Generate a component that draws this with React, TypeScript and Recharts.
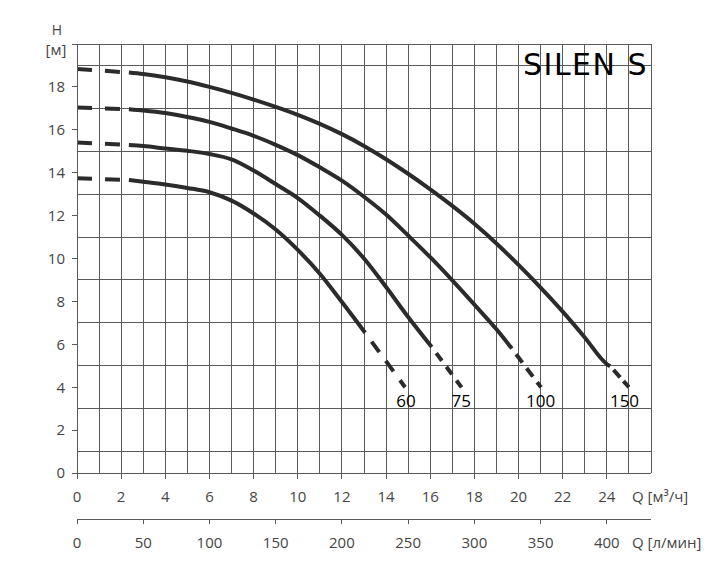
import React from 'react';
import { LineChart, Line, XAxis, YAxis, CartesianGrid, ReferenceDot } from 'recharts';

// Axis ticks
const qTicks = [0, 2, 4, 6, 8, 10, 12, 14, 16, 18, 20, 22, 24];
const lminTicks = [0, 50, 100, 150, 200, 250, 300, 350, 400];
const lminSpan = [[0, 0], [433.33, 0]];
const hTicks = [0, 2, 4, 6, 8, 10, 12, 14, 16, 18, 20];
const gridQ = [0, 1, 2, 3, 4, 5, 6, 7, 8, 9, 10, 11, 12, 13, 14, 15, 16, 17, 18, 19, 20, 21, 22, 23, 24, 25, 26];
const gridH = [0, 1, 2, 3, 4, 5, 6, 7, 8, 9, 10, 11, 12, 13, 14, 15, 16, 17, 18, 19, 20];

// Curves: [Q m³/h, H m]
const curve60 = [[2.35, 13.66], [3, 13.58], [4, 13.45], [5, 13.29], [6, 13.09], [7, 12.7], [8, 12.1], [9, 11.35], [10, 10.4], [11, 9.29], [12, 7.97], [13.05, 6.54]];
const curve75 = [[2.35, 15.29], [3, 15.24], [4, 15.13], [5, 15.02], [6, 14.87], [7, 14.62], [8, 14.1], [9, 13.47], [10, 12.82], [11, 12.0], [12, 11.1], [13, 10.0], [14, 8.67], [15, 7.27], [16.07, 5.87]];
const curve100 = [[2.35, 16.96], [3, 16.9], [4, 16.78], [5, 16.6], [6, 16.37], [7, 16.06], [8, 15.72], [9, 15.3], [10, 14.82], [11, 14.25], [12, 13.63], [13, 12.88], [14, 12.05], [15, 11.07], [16, 10.06], [17, 8.98], [18, 7.85], [19, 6.7], [19.7, 5.8]];
const curve150 = [[2.35, 18.67], [3, 18.6], [4, 18.45], [5, 18.25], [6, 18.0], [7, 17.72], [8, 17.41], [9, 17.07], [10, 16.7], [11, 16.28], [12, 15.8], [13, 15.25], [14, 14.63], [15, 13.95], [16, 13.22], [17, 12.45], [18, 11.62], [19, 10.7], [20, 9.7], [21, 8.64], [22, 7.52], [23, 6.32], [24, 5.08], [24.15, 4.98]];

// Dashed starts (shut-off head) and dashed ends
const start60 = [[0, 13.74], [2.35, 13.66]];
const start75 = [[0, 15.41], [2.35, 15.29]];
const start100 = [[0, 17.04], [2.35, 16.96]];
const start150 = [[0, 18.84], [2.35, 18.67]];
const end60 = [[13.05, 6.54], [14.86, 4.0]];
const end75 = [[16.07, 5.87], [17.42, 3.99]];
const end100 = [[19.7, 5.8], [21.02, 3.99]];
const end150 = [[24.15, 4.98], [25.0, 4.0]];

// Curve labels
const curveNames = ['60', '75', '100', '150'];
const labelQ = [14.9, 17.4, 21.0, 24.8];
const labelH = 3.35;

const toPts = (arr: number[][]) => arr.map(([q, h]) => ({ q, h }));

const LINE = '#2b2b2b';
const GRID = '#595959';
const TXT = '#454545';
const FONT = '"Open Sans", sans-serif';

const solidSets = [curve60, curve75, curve100, curve150];
const startSets = [start60, start75, start100, start150];
const endSets = [end60, end75, end100, end150];
const endDash = [
  { da: '13 11', off: 13 },
  { da: '9.5 7.5', off: 9.5 },
  { da: '10.5 7', off: 10.5 },
  { da: '10 5', off: 10 },
];

const CurveLabel = (props: any) => {
  const { viewBox, value } = props;
  const cx = viewBox.x + (viewBox.width || 0) / 2;
  const cy = viewBox.y + (viewBox.height || 0) / 2;
  return (
    <text x={cx} y={cy + 6} textAnchor="middle" fontFamily={FONT} fontSize={17} fill="#000">
      {value}
    </text>
  );
};

export default function App() {
  return (
    <div style={{ position: 'absolute', left: 0, top: 0, width: 726, height: 570, background: '#fff' }}>
      <LineChart
        width={726}
        height={570}
        margin={{ top: 44, right: 75, left: 37, bottom: 21 }}
      >
        <CartesianGrid
          stroke={GRID}
          strokeWidth={1}
          shapeRendering="crispEdges"
          horizontalValues={gridH}
          verticalValues={gridQ}
        />
        <XAxis
          type="number"
          dataKey="q"
          domain={[0, 26]}
          ticks={qTicks}
          allowDataOverflow
          height={46}
          tickSize={6}
          tickMargin={12}
          stroke={GRID}
          tick={{ fill: TXT, fontSize: 15, fontFamily: FONT }}
          tickLine={{ stroke: GRID, shapeRendering: 'crispEdges' }}
          axisLine={{ stroke: GRID, shapeRendering: 'crispEdges' }}
        />
        <XAxis
          xAxisId="l"
          type="number"
          dataKey="q"
          domain={[0, 433.33]}
          ticks={lminTicks}
          allowDataOverflow
          height={30}
          tickSize={5}
          tickMargin={13}
          tick={{ fill: TXT, fontSize: 15, fontFamily: FONT }}
          tickLine={{ stroke: GRID, shapeRendering: 'crispEdges' }}
          axisLine={{ stroke: GRID, shapeRendering: 'crispEdges' }}
        />
        <YAxis
          type="number"
          domain={[0, 20]}
          ticks={hTicks}
          allowDataOverflow
          width={40}
          tickSize={5}
          tickMargin={7}
          tickFormatter={(v: number) => (v === 20 ? '' : String(v))}
          tick={{ fill: TXT, fontSize: 15, fontFamily: FONT }}
          tickLine={{ stroke: GRID, shapeRendering: 'crispEdges' }}
          axisLine={{ stroke: GRID, shapeRendering: 'crispEdges' }}
        />
        <Line
          xAxisId="l"
          data={toPts(lminSpan)}
          dataKey="h"
          stroke="none"
          dot={false}
          activeDot={false}
          isAnimationActive={false}
        />
        {startSets.map((s, i) => (
          <Line
            key={'s' + i}
            data={toPts(s)}
            dataKey="h"
            type="linear"
            stroke={LINE}
            strokeWidth={4}
            strokeDasharray="15 13"
            dot={false}
            activeDot={false}
            isAnimationActive={false}
          />
        ))}
        {solidSets.map((s, i) => (
          <Line
            key={'c' + i}
            data={toPts(s)}
            dataKey="h"
            type="monotone"
            stroke={LINE}
            strokeWidth={4}
            dot={false}
            activeDot={false}
            isAnimationActive={false}
          />
        ))}
        {endSets.map((s, i) => (
          <Line
            key={'e' + i}
            data={toPts(s)}
            dataKey="h"
            type="linear"
            stroke={LINE}
            strokeWidth={4}
            strokeDasharray={endDash[i].da}
            strokeDashoffset={endDash[i].off}
            dot={false}
            activeDot={false}
            isAnimationActive={false}
          />
        ))}
        {curveNames.map((n, i) => (
          <ReferenceDot
            key={'l' + n}
            x={labelQ[i]}
            y={labelH}
            r={0}
            fill="none"
            stroke="none"
            label={<CurveLabel value={n} />}
          />
        ))}
        <text x={57} y={35} textAnchor="middle" fontFamily={FONT} fontSize={14} fill={TXT}>H</text>
        <text x={56} y={55} textAnchor="middle" fontFamily={FONT} fontSize={15} fill={TXT}>[м]</text>
        <text x={632} y={502} textAnchor="start" fontFamily={FONT} fontSize={15} fill={TXT}>Q [м³/ч]</text>
        <text x={632} y={548} textAnchor="start" fontFamily={FONT} fontSize={15} fill={TXT}>Q [л/мин]</text>
        <text x={523} y={75} textAnchor="start" fontFamily='"DejaVu Sans", sans-serif' fontSize={30} letterSpacing={1.5} fill="#000">SILEN S</text>
      </LineChart>
    </div>
  );
}
